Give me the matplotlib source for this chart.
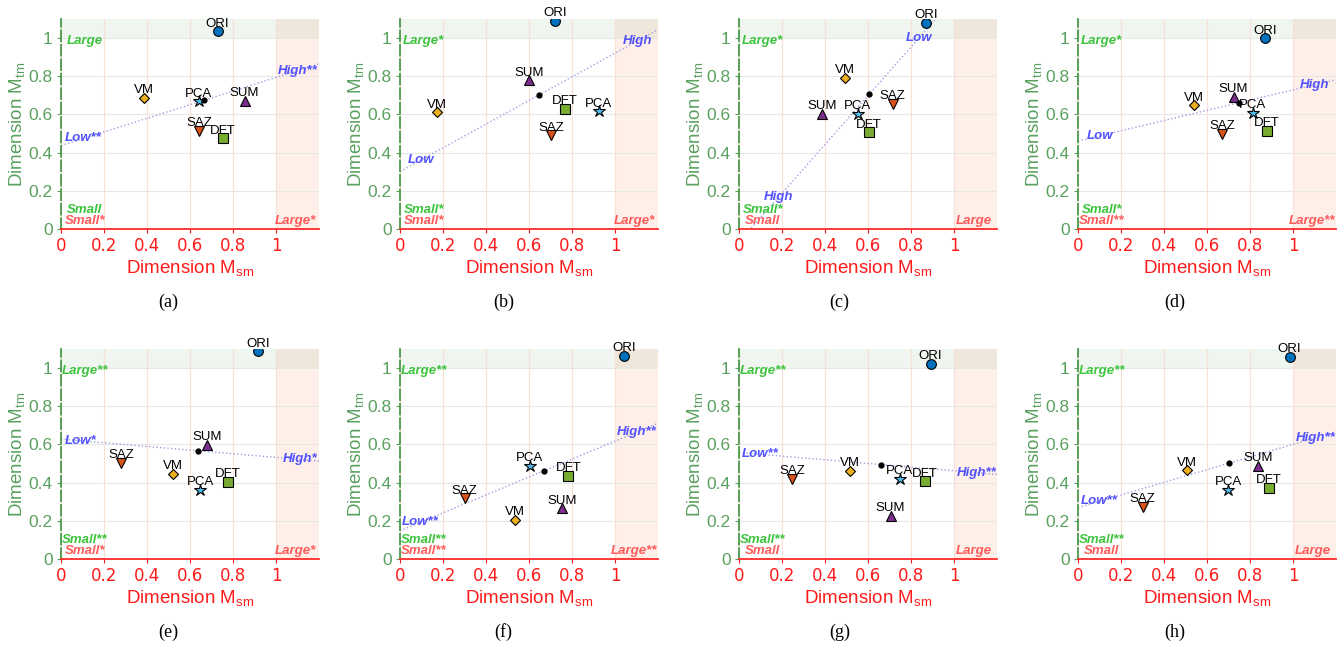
import numpy as np
import matplotlib
matplotlib.use("Agg")
import matplotlib.pyplot as plt

plt.rcParams['font.family'] = ['Liberation Sans', 'DejaVu Sans']
plt.rcParams['mathtext.fontset'] = 'custom'
plt.rcParams['mathtext.rm'] = 'Liberation Sans'
plt.rcParams['mathtext.it'] = 'Liberation Sans:italic'

# ---------- Data ----------
panels = ["(a)", "(b)", "(c)", "(d)", "(e)", "(f)", "(g)", "(h)"]
methods = ["ORI", "VM", "PCA", "SUM", "SAZ", "DFT"]

ori_sm = [0.728, 0.722, 0.871, 0.870, 0.915, 1.043, 0.891, 0.984]
ori_tm = [1.035, 1.092, 1.080, 1.000, 1.089, 1.065, 1.024, 1.059]
vm_sm = [0.387, 0.170, 0.495, 0.539, 0.522, 0.533, 0.514, 0.509]
vm_tm = [0.687, 0.612, 0.791, 0.649, 0.447, 0.206, 0.461, 0.464]
pca_sm = [0.640, 0.924, 0.553, 0.812, 0.648, 0.604, 0.747, 0.699]
pca_tm = [0.670, 0.617, 0.605, 0.610, 0.361, 0.489, 0.421, 0.361]
sum_sm = [0.854, 0.602, 0.388, 0.724, 0.679, 0.755, 0.705, 0.837]
sum_tm = [0.671, 0.779, 0.605, 0.692, 0.599, 0.265, 0.227, 0.489]
saz_sm = [0.643, 0.703, 0.714, 0.669, 0.281, 0.301, 0.247, 0.301]
saz_tm = [0.513, 0.490, 0.657, 0.500, 0.503, 0.318, 0.419, 0.274]
dft_sm = [0.752, 0.768, 0.604, 0.879, 0.775, 0.783, 0.863, 0.887]
dft_tm = [0.475, 0.630, 0.506, 0.513, 0.403, 0.436, 0.407, 0.372]

# dotted trend line: y at x=0 and y at x=1.2
line_left = [0.437, 0.301, -0.068, 0.461, 0.628, 0.148, 0.558, 0.269]
line_right = [0.865, 1.045, 1.464, 0.782, 0.513, 0.711, 0.443, 0.667]

green_top = ["Large", "Large*", "Large*", "Large*", "Large**", "Large**", "Large**", "Large**"]
green_bot = ["Small", "Small*", "Small*", "Small*", "Small**", "Small**", "Small**", "Small**"]
red_left = ["Small*", "Small*", "Small", "Small**", "Small*", "Small**", "Small", "Small"]
red_right = ["Large*", "Large*", "Large", "Large**", "Large*", "Large**", "Large", "Large"]
blue_low = ["Low**", "Low", "Low", "Low", "Low*", "Low**", "Low**", "Low**"]
blue_high = ["High**", "High", "High", "High", "High*", "High**", "High**", "High**"]
low_x = [0.104, 0.100, 0.837, 0.102, 0.093, 0.096, 0.099, 0.099]
high_x = [1.101, 1.103, 0.183, 1.101, 1.112, 1.101, 1.106, 1.104]

pts = {"ORI": (ori_sm, ori_tm), "VM": (vm_sm, vm_tm), "PCA": (pca_sm, pca_tm),
       "SUM": (sum_sm, sum_tm), "SAZ": (saz_sm, saz_tm), "DFT": (dft_sm, dft_tm)}
style = {"ORI": ("o", "#0072BD", 7), "VM": ("D", "#EDB120", 5.5), "PCA": ("*", "#4DBEEE", 9),
         "SUM": ("^", "#7E2F8E", 7), "SAZ": ("v", "#D95319", 7), "DFT": ("s", "#77AC30", 6.5)}

# ---------- Figure ----------
W, H = 1343, 648
fig = plt.figure(figsize=(W / 100, H / 100), dpi=100)
lefts = [61, 400, 739, 1078]
tops = [19, 349]
aw, ah = 258, 210

green_lab = "#5aa05f"
red_lab = "#ff1a1a"

for i, name in enumerate(panels):
    row, col = divmod(i, 4)
    ax = fig.add_axes([lefts[col] / W, 1 - (tops[row] + ah) / H, aw / W, ah / H])

    # shaded zones
    ax.axvspan(1, 1.2, color="#ff8a55", alpha=0.13, lw=0, zorder=0)
    ax.axhspan(1, 1.1, color="#3c8c3c", alpha=0.08, lw=0, zorder=0)

    ax.set_axisbelow(True)
    ax.xaxis.grid(True, color="#f9e0d6", lw=0.8)
    ax.yaxis.grid(True, color="#e6e8e6", lw=0.8)

    # trend line + centroid
    xs = np.array([0, 1.2])
    ys = np.array([line_left[i], line_right[i]])
    ax.plot(xs, ys, ls=":", color="#9e9ee2", lw=1.0, zorder=2)
    cx = np.mean([pts[m][0][i] for m in methods])
    cy = np.mean([pts[m][1][i] for m in methods])
    ax.plot(cx, cy, "o", color="black", ms=3.5, zorder=5)

    for m in methods:
        mk, c, ms = style[m]
        x, y = pts[m][0][i], pts[m][1][i]
        ax.plot(x, y, mk, color=c, mec="black", mew=0.8, ms=ms, zorder=4)
        ax.annotate(m, (x, y), xytext=(0, 3.3), textcoords="offset points",
                    ha="center", va="baseline", fontsize=9.5, zorder=6)

    slope = (line_right[i] - line_left[i]) / 1.2
    for lx, txt in [(low_x[i], blue_low[i]), (high_x[i], blue_high[i])]:
        ax.text(lx, line_left[i] + slope * lx, txt, color="#5252ff", fontsize=9.5,
                fontweight="bold", style="italic", ha="center", va="center", zorder=6)

    ax.text(0.11, 0.985, green_top[i], color="#3cc43c", fontsize=9.5, fontweight="bold",
            style="italic", ha="center", va="center")
    ax.text(0.11, 0.097, green_bot[i], color="#3cc43c", fontsize=9.5, fontweight="bold",
            style="italic", ha="center", va="center")
    ax.text(0.11, 0.04, red_left[i], color="#ff5a5a", fontsize=9.5, fontweight="bold",
            style="italic", ha="center", va="center")
    ax.text(1.09, 0.04, red_right[i], color="#ff5a5a", fontsize=9.5, fontweight="bold",
            style="italic", ha="center", va="center")

    ax.set_xlim(0, 1.2)
    ax.set_ylim(0, 1.1)
    ax.set_xticks([0, 0.2, 0.4, 0.6, 0.8, 1])
    ax.set_xticklabels(["0", "0.2", "0.4", "0.6", "0.8", "1"], family="DejaVu Sans")
    ax.set_yticks([0, 0.2, 0.4, 0.6, 0.8, 1])
    ax.set_yticklabels(["0", "0.2", "0.4", "0.6", "0.8", "1"])
    ax.tick_params(axis="x", colors=red_lab, labelsize=12, length=3, width=0.8, direction="out", pad=3)
    ax.tick_params(axis="y", colors=green_lab, labelsize=12.5, length=3, width=0.8, direction="out", pad=3)

    for s in ["top", "right"]:
        ax.spines[s].set_visible(False)
    ax.spines["bottom"].set_color("#ff2a2a")
    ax.spines["bottom"].set_linewidth(1.3)
    ax.spines["left"].set_color("#4a9a4a")
    ax.spines["left"].set_linewidth(1.3)
    ax.spines["left"].set_linestyle((0, (6, 2)))

    ax.set_xlabel("Dimension M$_{\\mathrm{sm}}$", color=red_lab, fontsize=13.5, labelpad=2)
    ax.set_ylabel("Dimension M$_{\\mathrm{tm}}$", color=green_lab, fontsize=13.5, labelpad=1)

    fig.text((col + 0.5) / 4, 1 - (302 if row == 0 else 632) / H, name,
             family="Liberation Serif", fontsize=13, ha="center", va="center")

fig.savefig("out.png", dpi=100)
